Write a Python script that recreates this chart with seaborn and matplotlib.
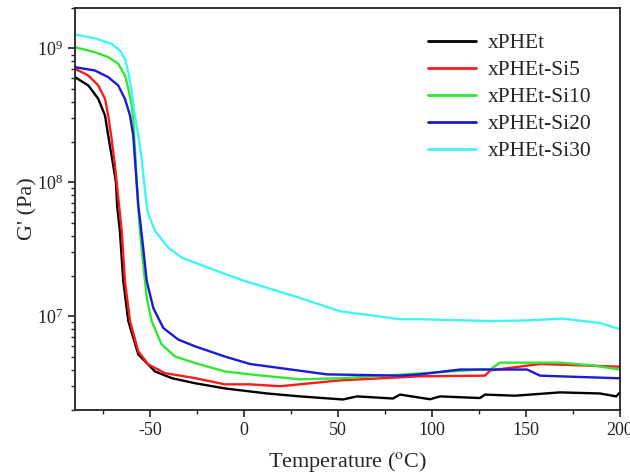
import numpy as np
import pandas as pd
import seaborn as sns
import matplotlib
matplotlib.use("Agg")
import matplotlib.pyplot as plt
from matplotlib.ticker import LogLocator, MultipleLocator, LogFormatterSciNotation, NullFormatter

series_names = ["xPHEt", "xPHEt-Si5", "xPHEt-Si10", "xPHEt-Si20", "xPHEt-Si30"]
colors = ["#000000", "#ff1a1a", "#33e633", "#1a1ad9", "#40f5f5"]

t_pheat = [-90, -82.9, -77.6, -74.0, -72.3, -69.6, -68.2, -67.5, -66.1, -64.3, -61.6, -56.3, -47.4,
           -38.5, -26.1, -10.2, 12.2, 29.7, 52.6, 60.1, 79.2, 83, 98.9, 104.3, 125.5, 128.2, 144.2,
           168.1, 189.4, 198, 200]
g_pheat = [6.1e8, 5.29e8, 4.2e8, 3.15e8, 2.23e8, 1.33e8, 1.0e8, 6.5e7, 4.33e7, 1.83e7, 9.18e6, 5.19e6, 3.87e6,
           3.45e6, 3.16e6, 2.89e6, 2.65e6, 2.52e6, 2.39e6, 2.52e6, 2.43e6, 2.6e6, 2.4e6, 2.52e6, 2.45e6, 2.6e6, 2.55e6,
           2.7e6, 2.65e6, 2.52e6, 2.7e6]

t_si5 = [-90, -82.9, -77.6, -74.0, -72.3, -70.5, -68.7, -67.3, -65.1, -63.4, -60.7, -56.3, -51.0,
         -42.1, -26.1, -10.2, 3.1, 19.1, 51, 93.6, 128.2, 131, 157.5, 200]
g_si5 = [7.05e8, 6.28e8, 5.29e8, 4.2e8, 3.15e8, 2.11e8, 1.33e8, 8.5e7, 4.33e7, 1.83e7, 9.18e6, 5.47e6, 4.37e6,
         3.76e6, 3.45e6, 3.1e6, 3.1e6, 3.0e6, 3.32e6, 3.56e6, 3.6e6, 3.94e6, 4.4e6, 4.2e6]

t_si10 = [-90, -79.4, -72.3, -67.0, -63.4, -61.6, -59.8, -59.0, -58.1, -57.2, -56.3, -55.4, -53.7,
          -51.8, -49.2, -43.9, -36.8, -26.1, -10.2, 3.1, 29.7, 51, 93.6, 125.5, 131, 136.2, 168, 185, 200]
g_si10 = [1.02e9, 9.37e8, 8.61e8, 7.68e8, 6.28e8, 4.99e8, 3.74e8, 2.99e8, 1.8e8, 1.05e8, 6.5e7, 4.3e7, 2.45e7,
          1.37e7, 9.18e6, 6.17e6, 5.01e6, 4.47e6, 3.87e6, 3.68e6, 3.38e6, 3.44e6, 3.74e6, 4.0e6, 4.0e6, 4.5e6,
          4.5e6, 4.3e6, 4.0e6]

t_si20 = [-90, -79.4, -72.3, -67.0, -63.4, -60.7, -59.0, -58.1, -57.2, -56.3, -55.4, -53.7, -51.8,
          -48.3, -43.0, -35.0, -26.1, -10.2, 3.1, 44.1, 83, 93.6, 114.9, 150.6, 157.5, 200]
g_si20 = [7.24e8, 6.84e8, 6.1e8, 5.29e8, 4.2e8, 3.15e8, 2.23e8, 1.5e8, 1.0e8, 6.67e7, 5.3e7, 3.25e7, 1.83e7,
          1.15e7, 8.17e6, 6.69e6, 5.96e6, 5.0e6, 4.4e6, 3.68e6, 3.6e6, 3.68e6, 4.0e6, 4.0e6, 3.6e6, 3.44e6]

t_si30 = [-90, -79.4, -70.5, -66.1, -63.4, -61.6, -59.8, -58.1, -56.3, -54.5, -53.2, -51.8, -51.0,
          -47.4, -40.3, -33.2, -26.1, -10.2, 0.5, 29.7, 51, 83, 93.6, 130.9, 150, 169.7, 189.4, 200]
g_si30 = [1.27e9, 1.19e9, 1.08e9, 9.66e8, 8.37e8, 6.64e8, 4.71e8, 3.15e8, 2.23e8, 1.5e8, 1.0e8, 6.67e7, 5.81e7,
          4.33e7, 3.25e7, 2.74e7, 2.51e7, 2.07e7, 1.83e7, 1.37e7, 1.09e7, 9.5e6, 9.5e6, 9.2e6, 9.3e6, 9.6e6,
          8.9e6, 8.0e6]

all_t = [t_pheat, t_si5, t_si10, t_si20, t_si30]
all_g = [g_pheat, g_si5, g_si10, g_si20, g_si30]

frames = []
for name, t, g in zip(series_names, all_t, all_g):
    frames.append(pd.DataFrame({"T": t, "G": g, "sample": name}))
df = pd.concat(frames, ignore_index=True)

sns.set_style("ticks")
plt.rcParams["font.family"] = ["Liberation Serif", "DejaVu Serif"]
plt.rcParams["mathtext.fontset"] = "stix"
plt.rcParams["axes.unicode_minus"] = False

fig = plt.figure(figsize=(6.3, 4.76), dpi=100)
ax = fig.add_axes([0.119, 0.139, 0.865, 0.844])

sns.lineplot(data=df, x="T", y="G", hue="sample", hue_order=series_names,
             palette=colors, sort=False, estimator=None, linewidth=1.7, ax=ax)

ax.set_yscale("log")
ax.set_xlim(-90, 200)
ax.set_ylim(2.0e6, 2.0e9)
ax.xaxis.set_major_locator(MultipleLocator(50))
ax.xaxis.set_minor_locator(MultipleLocator(25))
ax.yaxis.set_major_locator(LogLocator(base=10))
ax.yaxis.set_minor_locator(LogLocator(base=10, subs=np.arange(2, 10)))
ax.yaxis.set_major_formatter(LogFormatterSciNotation())
ax.yaxis.set_minor_formatter(NullFormatter())

ax.tick_params(axis="both", which="major", direction="out", length=5, width=1.2,
               labelsize=13, colors="#222222")
ax.tick_params(axis="both", which="minor", direction="out", length=3, width=1.0)
for s in ax.spines.values():
    s.set_linewidth(1.3)
    s.set_color("#222222")

ax.set_xlabel("Temperature ($^{\\rm o}$C)", fontsize=16, labelpad=8)
ax.set_ylabel("G' (Pa)", fontsize=16, labelpad=0)

leg = ax.legend(loc="upper right", frameon=False, fontsize=15.5, handlelength=2.2,
                handletextpad=0.55, labelspacing=0.32, bbox_to_anchor=(0.975, 0.975),
                borderaxespad=0.3)
for line in leg.get_lines():
    line.set_linewidth(2)

fig.savefig("out.png", dpi=100)
